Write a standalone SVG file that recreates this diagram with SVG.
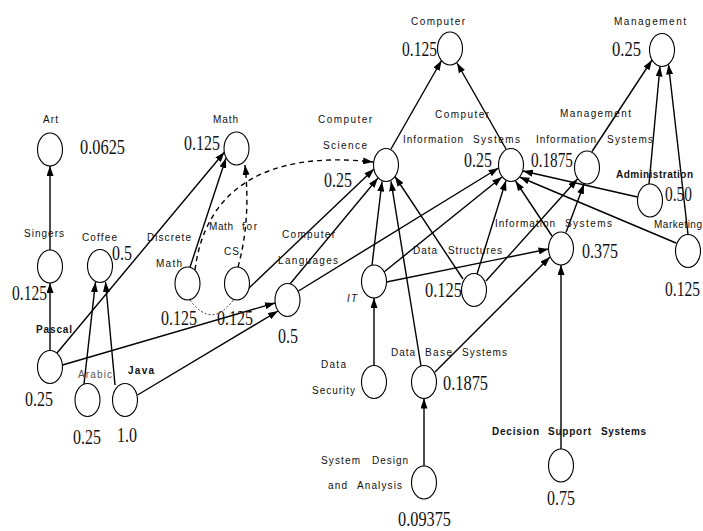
<svg xmlns="http://www.w3.org/2000/svg" width="703" height="531" viewBox="0 0 703 531">
<defs>
<marker id="ah" markerUnits="userSpaceOnUse" markerWidth="10" markerHeight="7" refX="10" refY="3.5" orient="auto">
<path d="M0,0 L10,3.5 L0,7 z" fill="#000" stroke="none"/>
</marker>
</defs>
<style>
.n{fill:#fff;stroke:#000;stroke-width:1.1}
.e{stroke:#000;stroke-width:1.4;fill:none;marker-end:url(#ah)}
.d{stroke:#000;stroke-width:1.4;fill:none;stroke-dasharray:5,4;marker-end:url(#ah)}
.dt{stroke:#000;stroke-width:0.8;fill:none;stroke-dasharray:2,2}
.l{font-family:"Liberation Sans",Arial,sans-serif;font-size:10px;fill:#111}
.b{font-weight:bold}
.v{font-family:"Liberation Serif","Times New Roman",serif;font-size:21px;fill:#111}
</style>
<rect width="703" height="531" fill="#fff"/>
<g id="connectors">
<line class="e" x1="50" y1="250" x2="50" y2="166"/>
<line class="e" x1="50" y1="350.5" x2="50" y2="283"/>
<line class="e" x1="57" y1="353" x2="224.5" y2="152"/>
<line class="e" x1="190" y1="267.2" x2="226" y2="158"/>
<line class="e" x1="84" y1="384" x2="95.5" y2="282.2"/>
<line class="e" x1="115" y1="385" x2="105.5" y2="282"/>
<line class="e" x1="62.5" y1="365" x2="275" y2="303"/>
<line class="e" x1="137.5" y1="395" x2="278" y2="311"/>
<path class="d" d="M238,267 Q251,220 245,165"/>
<path class="d" d="M195,270 C205,190 265,150 373,162"/>
<path class="dt" d="M190,300 Q212,330 234,299"/>
<line class="e" x1="248" y1="289" x2="374" y2="169"/>
<line class="e" x1="290" y1="284" x2="378" y2="178"/>
<line class="e" x1="372" y1="265.2" x2="382" y2="181.5"/>
<line class="e" x1="421" y1="366" x2="391" y2="181.2"/>
<line class="e" x1="463" y1="279" x2="395" y2="176.5"/>
<line class="e" x1="391" y1="149" x2="441.5" y2="60.5"/>
<line class="e" x1="506" y1="149" x2="457" y2="63"/>
<line class="e" x1="592" y1="151.5" x2="652" y2="60"/>
<line class="e" x1="649" y1="184" x2="660" y2="66.5"/>
<line class="e" x1="688" y1="234.5" x2="668.5" y2="64.5"/>
<line class="e" x1="637.5" y1="197" x2="523" y2="171"/>
<line class="e" x1="676" y1="243" x2="519.5" y2="177"/>
<line class="e" x1="298.5" y1="291" x2="498.5" y2="168"/>
<line class="e" x1="384" y1="272" x2="502" y2="177"/>
<line class="e" x1="386.5" y1="282" x2="548.5" y2="249"/>
<line class="e" x1="435" y1="372" x2="550" y2="257"/>
<line class="e" x1="477" y1="274" x2="506" y2="180.5"/>
<line class="e" x1="486" y1="281" x2="577.5" y2="179"/>
<line class="e" x1="552" y1="236" x2="515.5" y2="181"/>
<line class="e" x1="566" y1="232.5" x2="584" y2="184"/>
<line class="e" x1="561" y1="449" x2="561" y2="265"/>
<line class="e" x1="374" y1="365.5" x2="374" y2="298"/>
<line class="e" x1="424" y1="466" x2="424" y2="398.5"/>
</g>
<g id="art"><ellipse class="n" cx="50" cy="149.5" rx="12.5" ry="16.5"/><text class="l" x="43" y="123" textLength="15" lengthAdjust="spacing">Art</text><text class="v" x="80" y="154" textLength="45" lengthAdjust="spacingAndGlyphs">0.0625</text></g>
<g id="math"><ellipse class="n" cx="236.5" cy="148.5" rx="12.5" ry="16.5"/><text class="l" x="213" y="123" textLength="25" lengthAdjust="spacing">Math</text><text class="v" x="184" y="150" textLength="36" lengthAdjust="spacingAndGlyphs">0.125</text></g>
<g id="computer"><ellipse class="n" cx="450" cy="48.5" rx="12.5" ry="16.5"/><text class="l" x="411" y="25" textLength="54" lengthAdjust="spacing">Computer</text><text class="v" x="402" y="56" textLength="35" lengthAdjust="spacingAndGlyphs">0.125</text></g>
<g id="management"><ellipse class="n" cx="662" cy="50" rx="12.5" ry="16.5"/><text class="l" x="614" y="25" textLength="72" lengthAdjust="spacing">Management</text><text class="v" x="612" y="56" textLength="29" lengthAdjust="spacingAndGlyphs">0.25</text></g>
<g id="computer-science"><ellipse class="n" cx="386" cy="165" rx="12.5" ry="16.5"/><text class="l" x="318" y="123" textLength="54" lengthAdjust="spacing">Computer</text><text class="l" x="323" y="149" textLength="44" lengthAdjust="spacing">Science</text><text class="v" x="324" y="187" textLength="28" lengthAdjust="spacingAndGlyphs">0.25</text></g>
<g id="computer-information-systems"><ellipse class="n" cx="511" cy="165" rx="12.5" ry="16.5"/><text class="l" x="435" y="118" textLength="54" lengthAdjust="spacing">Computer</text><text class="l" y="143"><tspan x="403" textLength="60" lengthAdjust="spacing">Information</tspan><tspan x="473" textLength="47" lengthAdjust="spacing">Systems</tspan></text><text class="v" x="464" y="167" textLength="28" lengthAdjust="spacingAndGlyphs">0.25</text></g>
<g id="management-information-systems"><ellipse class="n" cx="587" cy="167.5" rx="12.5" ry="16.5"/><text class="l" x="560" y="117" textLength="71" lengthAdjust="spacing">Management</text><text class="l" y="143"><tspan x="536" textLength="60" lengthAdjust="spacing">Information</tspan><tspan x="607" textLength="46" lengthAdjust="spacing">Systems</tspan></text><text class="v" x="531" y="167" textLength="42" lengthAdjust="spacingAndGlyphs">0.1875</text></g>
<g id="administration"><ellipse class="n" cx="650" cy="200.5" rx="12.5" ry="16.5"/><text class="l b" x="616" y="178" textLength="77" lengthAdjust="spacing">Administration</text><text class="v" x="665" y="201" textLength="27" lengthAdjust="spacingAndGlyphs">0.50</text></g>
<g id="marketing"><ellipse class="n" cx="688" cy="251" rx="12.5" ry="16.5"/><text class="l" x="654" y="228" textLength="48" lengthAdjust="spacing">Marketing</text><text class="v" transform="translate(665,296) scale(0.74,1)">0.125</text></g>
<g id="information-systems"><ellipse class="n" cx="561" cy="248.5" rx="12.5" ry="16.5"/><text class="l" y="227"><tspan x="495" textLength="60" lengthAdjust="spacing">Information</tspan><tspan x="565" textLength="47" lengthAdjust="spacing">Systems</tspan></text><text class="v" x="582" y="258" textLength="36" lengthAdjust="spacingAndGlyphs">0.375</text></g>
<g id="data-structures"><ellipse class="n" cx="474" cy="290" rx="12.5" ry="16.5"/><text class="l" y="254"><tspan x="413" textLength="24" lengthAdjust="spacing">Data</tspan><tspan x="448" textLength="54" lengthAdjust="spacing">Structures</tspan></text><text class="v" x="425" y="297" textLength="37" lengthAdjust="spacingAndGlyphs">0.125</text></g>
<g id="it"><ellipse class="n" cx="374" cy="281.5" rx="12.5" ry="16.5"/><text class="l" x="347" y="302" font-style="italic" textLength="10" lengthAdjust="spacing">IT</text></g>
<g id="computer-languages"><ellipse class="n" cx="287.5" cy="300" rx="12.5" ry="16.5"/><text class="l" x="282" y="238" textLength="53" lengthAdjust="spacing">Computer</text><text class="l" x="278" y="264" textLength="60" lengthAdjust="spacing">Languages</text><text class="v" x="278" y="343" textLength="20" lengthAdjust="spacingAndGlyphs">0.5</text></g>
<g id="discrete-math"><ellipse class="n" cx="187.5" cy="283.5" rx="12.5" ry="16.5"/><text class="l" x="147" y="241" textLength="44" lengthAdjust="spacing">Discrete</text><text class="l" x="156" y="267" textLength="26" lengthAdjust="spacing">Math</text><text class="v" x="161" y="325" textLength="36" lengthAdjust="spacingAndGlyphs">0.125</text></g>
<g id="math-for-cs"><ellipse class="n" cx="237" cy="283.5" rx="12.5" ry="16.5"/><text class="l" y="230"><tspan x="209" textLength="24" lengthAdjust="spacing">Math</tspan><tspan x="242" textLength="15" lengthAdjust="spacing">for</tspan></text><text class="l" x="224" y="255" textLength="15" lengthAdjust="spacing">CS</text><text class="v" x="217" y="325" textLength="36" lengthAdjust="spacingAndGlyphs">0.125</text></g>
<g id="singers"><ellipse class="n" cx="50" cy="266.5" rx="12.5" ry="16.5"/><text class="l" x="24" y="237" textLength="40" lengthAdjust="spacing">Singers</text><text class="v" x="12" y="300" textLength="35" lengthAdjust="spacingAndGlyphs">0.125</text></g>
<g id="coffee"><ellipse class="n" cx="100" cy="266" rx="12.5" ry="16.5"/><text class="l" x="82" y="241" textLength="35" lengthAdjust="spacing">Coffee</text><text class="v" x="112" y="260" textLength="20" lengthAdjust="spacingAndGlyphs">0.5</text></g>
<g id="pascal"><ellipse class="n" cx="50" cy="367" rx="12.5" ry="16.5"/><text class="l b" x="36" y="333" textLength="36" lengthAdjust="spacing">Pascal</text><text class="v" x="25" y="406" textLength="28" lengthAdjust="spacingAndGlyphs">0.25</text></g>
<g id="arabic"><ellipse class="n" cx="87.5" cy="400" rx="12.5" ry="16.5"/><text class="l" x="78" y="378" style="fill:#555" textLength="34" lengthAdjust="spacing">Arabic</text><text class="v" x="73" y="444" textLength="28" lengthAdjust="spacingAndGlyphs">0.25</text></g>
<g id="java"><ellipse class="n" cx="125" cy="400" rx="12.5" ry="16.5"/><text class="l b" x="128" y="374" textLength="26" lengthAdjust="spacing">Java</text><text class="v" x="117" y="442" textLength="20" lengthAdjust="spacingAndGlyphs">1.0</text></g>
<g id="data-security"><ellipse class="n" cx="374" cy="382" rx="12.5" ry="16.5"/><text class="l" x="321" y="368" textLength="25" lengthAdjust="spacing">Data</text><text class="l" x="312" y="394" textLength="43" lengthAdjust="spacing">Security</text></g>
<g id="data-base-systems"><ellipse class="n" cx="424" cy="382" rx="12.5" ry="16.5"/><text class="l" y="356"><tspan x="391" textLength="24" lengthAdjust="spacing">Data</tspan><tspan x="425" textLength="27" lengthAdjust="spacing">Base</tspan><tspan x="462" textLength="45" lengthAdjust="spacing">Systems</tspan></text><text class="v" x="443" y="390" textLength="45" lengthAdjust="spacingAndGlyphs">0.1875</text></g>
<g id="system-design-and-analysis"><ellipse class="n" cx="424" cy="482.5" rx="12.5" ry="16.5"/><text class="l" y="464"><tspan x="321" textLength="39" lengthAdjust="spacing">System</tspan><tspan x="372" textLength="36" lengthAdjust="spacing">Design</tspan></text><text class="l" y="489"><tspan x="328" textLength="19" lengthAdjust="spacing">and</tspan><tspan x="357" textLength="45" lengthAdjust="spacing">Analysis</tspan></text><text class="v" x="398" y="526" textLength="53" lengthAdjust="spacingAndGlyphs">0.09375</text></g>
<g id="decision-support-systems"><ellipse class="n" cx="561" cy="465.5" rx="12.5" ry="16.5"/><text class="l b" y="435"><tspan x="492" textLength="47" lengthAdjust="spacing">Decision</tspan><tspan x="548" textLength="43" lengthAdjust="spacing">Support</tspan><tspan x="601" textLength="45" lengthAdjust="spacing">Systems</tspan></text><text class="v" x="547" y="505" textLength="28" lengthAdjust="spacingAndGlyphs">0.75</text></g>
</svg>
